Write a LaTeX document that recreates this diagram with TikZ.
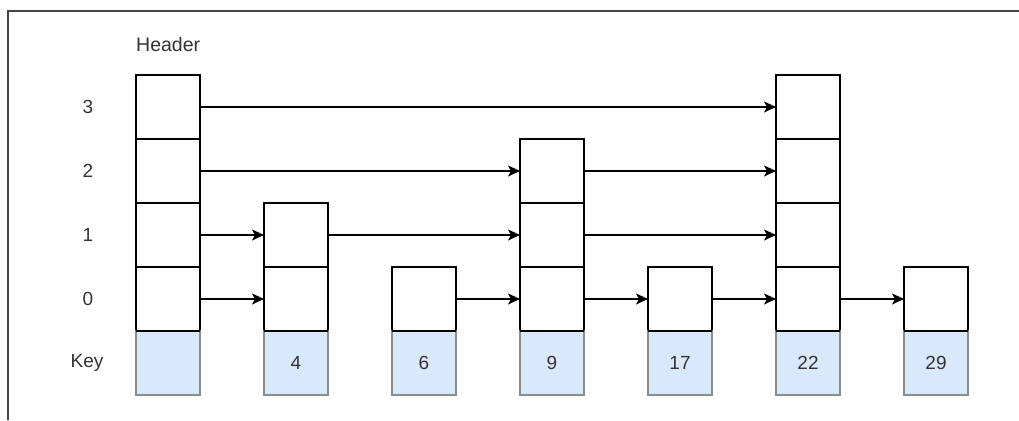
\documentclass[tikz,border=0pt]{standalone}
\usepackage{fontspec}
\setmainfont{Liberation Sans}
\usetikzlibrary{arrows.meta}
\definecolor{keyfill}{HTML}{DAE8FC}
\definecolor{keyline}{HTML}{8C8C8C}
\definecolor{txt}{HTML}{333333}
\definecolor{frame}{HTML}{444444}
\begin{document}
\begin{tikzpicture}[x=1pt,y=-1pt,
  cell/.style={draw=black,line width=1.5pt,fill=white,minimum width=64pt,minimum height=64pt,inner sep=0pt,outer sep=0pt},
  keycell/.style={draw=keyline,line width=1.2pt,fill=keyfill,minimum width=64pt,minimum height=64pt,inner sep=0pt,outer sep=0pt,text=txt,font=\fontsize{19}{22}\selectfont},
  lbl/.style={text=txt,font=\fontsize{19}{22}\selectfont,inner sep=0pt},
  arr/.style={line width=1.6pt,-{Stealth[length=12pt,width=11pt,inset=3pt]}}]
\fill[white] (0,0) rectangle (1019,420);
\useasboundingbox (0,0) rectangle (1019,420);
\draw[frame,line width=1.5pt] (8,420) -- (8,11) -- (1019,11);
\node[lbl,anchor=west,font=\fontsize{19.5}{22}\selectfont] (header) at (136,45) {Header};
\node[lbl] (l3) at (88,107) {3};
\node[lbl] (l2) at (88,171) {2};
\node[lbl] (l1) at (88,235) {1};
\node[lbl] (l0) at (88,299) {0};
\node[lbl] (lk) at (87,363) {Key};
\foreach \c/\x/\k/\h in {h/136//3, a/264/4/1, b/392/6/0, c/520/9/2, d/648/17/0, e/776/22/3, f/904/29/0}{
  \foreach \r in {0,...,\h}{
    \node[cell] (\c\r) at (\x+32,299-64*\r) {};
  }
  \node[keycell] (\c k) at (\x+32,363) {\k};
  \draw[line width=1.5pt] (\x,331) -- (\x+64,331);
}
\draw[arr] (h3) -- (e3);
\draw[arr] (h2) -- (c2);
\draw[arr] (c2) -- (e2);
\draw[arr] (h1) -- (a1);
\draw[arr] (a1) -- (c1);
\draw[arr] (c1) -- (e1);
\draw[arr] (h0) -- (a0);
\draw[arr] (b0) -- (c0);
\draw[arr] (c0) -- (d0);
\draw[arr] (d0) -- (e0);
\draw[arr] (e0) -- (f0);
\end{tikzpicture}
\end{document}
